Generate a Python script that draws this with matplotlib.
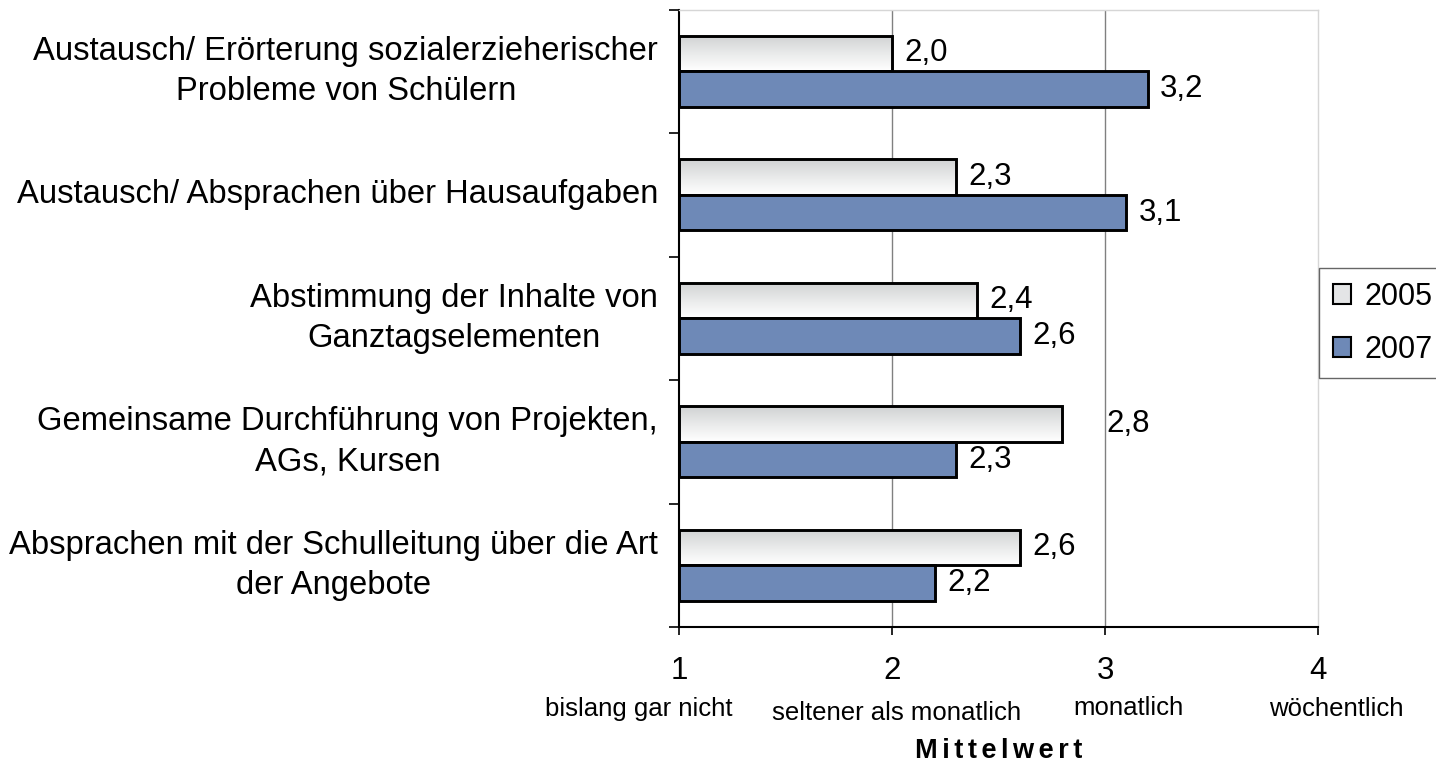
import numpy as np
import matplotlib.pyplot as plt
from matplotlib.patches import Patch
from matplotlib.colors import LinearSegmentedColormap

plt.rcParams['font.family'] = ['Liberation Sans', 'DejaVu Sans']

# Kategorien (von oben nach unten) und Mittelwerte
categories = [
    "Austausch/ Erörterung sozialerzieherischer\nProbleme von Schülern",
    "Austausch/ Absprachen über Hausaufgaben",
    "Abstimmung der Inhalte von\nGanztagselementen",
    "Gemeinsame Durchführung von Projekten,\nAGs, Kursen",
    "Absprachen mit der Schulleitung über die Art\nder Angebote",
]
values_2005 = [2.0, 2.3, 2.4, 2.8, 2.6]
values_2007 = [3.2, 3.1, 2.6, 2.3, 2.2]
series_names = ["2005", "2007"]
scale_ticks = [1, 2, 3, 4]
scale_labels = ["bislang gar nicht", "seltener als monatlich", "monatlich", "wöchentlich"]

color_2007 = '#6e89b7'
bar_h = 0.2875

fig = plt.figure(figsize=(14.36, 7.65), dpi=100)
ax = fig.add_axes([679 / 1436, 1 - 627 / 765, 639 / 1436, 617.5 / 765])

y = np.arange(len(categories))
base = scale_ticks[0]

# 2005: Verlauf grau -> weiss, Rahmen separat
bars05 = ax.barh(y - bar_h / 2, np.array(values_2005) - base, left=base, height=bar_h,
                 facecolor='none', edgecolor='black', linewidth=2.1, zorder=4)
cmap = LinearSegmentedColormap.from_list('grad', ['#d0d2d3', '#e9eaea', '#ffffff'])
grad = np.linspace(0, 1, 64).reshape(-1, 1)
for bar in bars05:
    x0, y0 = bar.get_x(), bar.get_y()
    w, h = bar.get_width(), bar.get_height()
    im = ax.imshow(grad, cmap=cmap, aspect='auto', origin='upper',
                   extent=(x0, x0 + w, y0 + h, y0), interpolation='bilinear', zorder=3)
    im.set_clip_path(bar)

bars07 = ax.barh(y + bar_h / 2, np.array(values_2007) - base, left=base, height=bar_h,
                 color=color_2007, edgecolor='black', linewidth=2.1, zorder=4)

# Wertebeschriftung (Komma als Dezimaltrenner)
extra_05 = [0, 0, 0, 23, 0]
for i, v in enumerate(values_2005):
    ax.annotate(f"{v:.1f}".replace('.', ','), xy=(v, y[i] - bar_h / 2),
                xytext=(9 + extra_05[i], 0), textcoords='offset points',
                ha='left', va='center', fontsize=22.5)
for i, v in enumerate(values_2007):
    ax.annotate(f"{v:.1f}".replace('.', ','), xy=(v, y[i] + bar_h / 2),
                xytext=(9, 0), textcoords='offset points',
                ha='left', va='center', fontsize=22.5)

ax.set_xlim(scale_ticks[0], scale_ticks[-1])
ax.set_ylim(len(categories) - 0.5, -0.5)

# Gitterlinien nur an den inneren Stufen
for t in scale_ticks[1:-1]:
    ax.axvline(t, color='#808080', linewidth=1, zorder=1)

for side in ['left', 'bottom']:
    ax.spines[side].set_color('black')
    ax.spines[side].set_linewidth(1.5)
for side in ['top', 'right']:
    ax.spines[side].set_color('#d6d6d6')
    ax.spines[side].set_linewidth(1)

ax.set_xticks(scale_ticks)
ax.set_xticklabels([str(t) for t in scale_ticks], fontsize=22.5)
ax.tick_params(axis='x', length=6, width=1.2, pad=15, direction='out')

ax.set_yticks(y)
ax.set_yticklabels(categories, fontsize=23.6, linespacing=1.39)
for lbl in ax.get_yticklabels():
    lbl.set_multialignment('center')
    lbl.set_verticalalignment('center')
ax.set_yticks(np.arange(-0.5, len(categories)), minor=True)
ax.tick_params(axis='y', which='major', length=0, pad=15)
ax.tick_params(axis='y', which='minor', length=7, width=1.2, direction='out')

# Textstufen unter den Zahlen
sub_x = [0.812, 2.023, 3.108, 4.084]
sub_y = [-0.133, -0.140, -0.131, -0.133]
for xs, ys, txt in zip(sub_x, sub_y, scale_labels):
    ax.text(xs, ys, txt, transform=ax.get_xaxis_transform(), ha='center', va='center',
            fontsize=18.5, clip_on=False)

ax.set_xlabel("\u2006".join("Mittelwert"), fontsize=19.5, fontweight='bold', va='center')
ax.xaxis.set_label_coords(0.5, -0.2)

handles = [Patch(facecolor='#e4e5e6', edgecolor='black', linewidth=1.5),
           Patch(facecolor=color_2007, edgecolor='black', linewidth=1.5)]
leg = fig.legend(handles, series_names, loc='upper left',
                 bbox_to_anchor=(1319 / 1436, 1 - 268 / 765), fontsize=22,
                 handlelength=0.6, handleheight=0.6, handletextpad=0.45,
                 labelspacing=0.75, borderpad=0.45, borderaxespad=0,
                 fancybox=False, frameon=True)
leg.get_frame().set_edgecolor('#404040')
leg.get_frame().set_linewidth(1)

fig.savefig('out.png', dpi=100)
